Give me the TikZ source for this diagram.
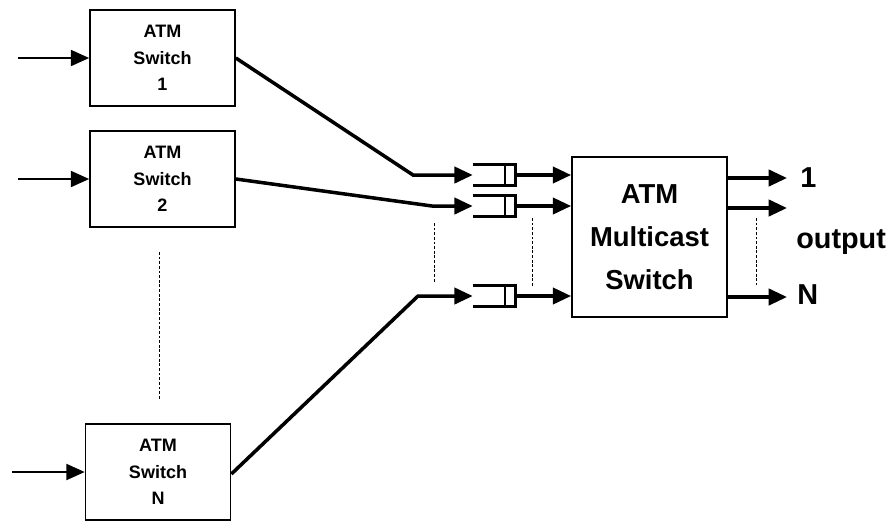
\documentclass[tikz,border=0pt]{standalone}
\usepackage{fontspec}
\setmainfont{Liberation Sans}
\usetikzlibrary{arrows.meta}

\tikzset{
	switchbox/.style={draw, line width=1.2pt, minimum width=3.625cm, minimum height=2.4cm, align=center, font=\fontsize{12.8}{19}\selectfont\bfseries},
	mcbox/.style={draw, line width=1.2pt, minimum width=3.875cm, minimum height=4cm, align=center, font=\fontsize{19.5}{30.5}\selectfont\bfseries},
	buffer/.style={minimum width=1.05cm, minimum height=0.5cm, inner sep=0pt},
	outlabel/.style={inner sep=0pt, font=\fontsize{20.5}{22}\selectfont\bfseries},
	inarrow/.style={line width=1pt, -{Triangle[length=13pt, width=11.5pt]}},
	link/.style={line width=2.5pt, -{Triangle[length=13pt, width=11.5pt]}},
	dots/.style={line width=0.7pt, dash pattern=on 2pt off 1.3pt}
}

\begin{document}
	\begin{tikzpicture}[x=0.025cm, y=-0.025cm]
		\useasboundingbox (0,0) rectangle (893,522);

		% ATM switches
		\node[switchbox] (sw1) at (162.5,58) {ATM\\Switch\\1};
		\node[switchbox] (sw2) at (162.5,179) {ATM\\Switch\\2};
		\node[switchbox] (swN) at (158,472) {ATM\\Switch\\N};

		\coordinate (in1) at (18,58);
		\coordinate (in2) at (18,179);
		\coordinate (inN) at (12,472);
		\draw[inarrow] (in1) -- (sw1);
		\draw[inarrow] (in2) -- (sw2);
		\draw[inarrow] (inN) -- (swN);

		% buffers
		\node[buffer] (b1) at (494,175) {};
		\node[buffer] (b2) at (494,206) {};
		\node[buffer] (bN) at (494,296) {};
		\foreach \b in {b1,b2,bN} {
			\draw[line width=2.2pt] (\b.north west) -- (\b.north east) -- (\b.south east) -- (\b.south west);
			\draw[line width=1.6pt] ([xshift=-0.25cm]\b.north east) -- ([xshift=-0.25cm]\b.south east);
		}

		\coordinate (k1) at (413,175);
		\coordinate (k2) at (432,206);
		\coordinate (kN) at (418,296);
		\draw[link] (sw1.east) -- (k1) -- (b1.west);
		\draw[link] (sw2.east) -- (k2) -- (b2.west);
		\draw[link] ([yshift=-0.05cm]swN.east) -- (kN) -- (bN.west);

		% multicast switch
		\node[mcbox] (mc) at (649.5,237) {ATM\\Multicast\\Switch};

		\foreach \b in {b1,b2,bN} {
			\draw[link] (\b.east) -- (\b.east -| mc.west);
		}

		% outputs
		\coordinate (o1) at (787,178);
		\coordinate (o2) at (787,208);
		\coordinate (oN) at (787,297);
		\foreach \o in {o1,o2,oN} {
			\draw[link] (\o -| mc.east) -- (\o);
		}
		\node[outlabel, anchor=base west] (l1) at (800,187) {1};
		\node[outlabel, anchor=base west] (lout) at (796,248) {output};
		\node[outlabel, anchor=base west] (lN) at (797,304) {N};

		% dotted continuation marks
		\draw[dots] (159,252) -- (159,400);
		\draw[dots] (434,223) -- (434,282);
		\draw[dots] (532,218) -- (532,287);
		\draw[dots] (756,218) -- (756,285);

	\end{tikzpicture}
\end{document}
